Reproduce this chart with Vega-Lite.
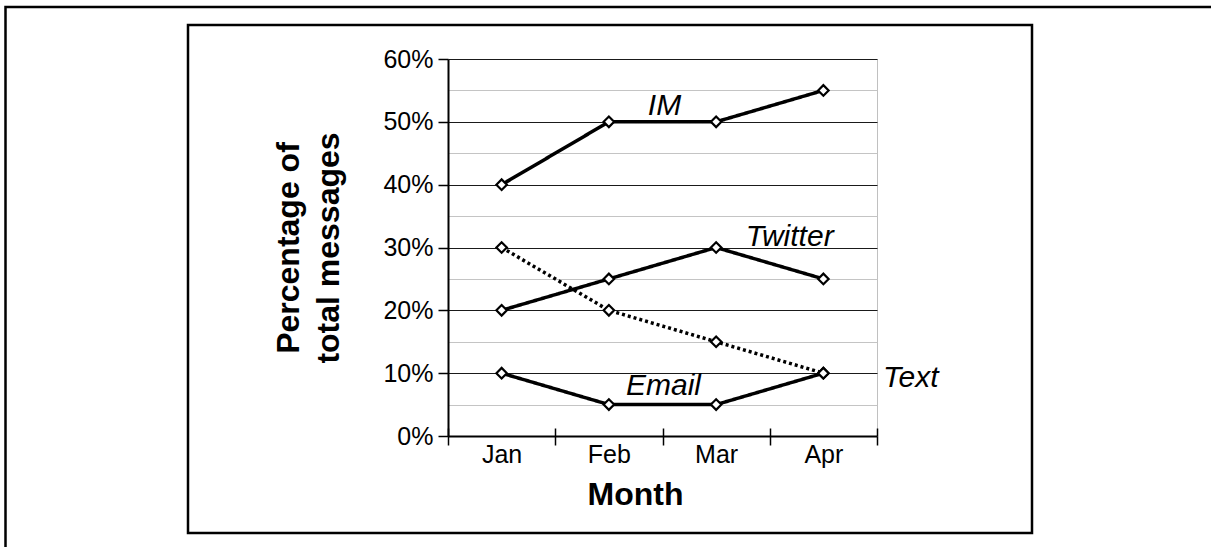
{
  "$schema": "https://vega.github.io/schema/vega-lite/v6.json",
  "width": 429,
  "height": 377,
  "autosize": {"type": "none"},
  "padding": {"left": 448, "top": 59, "right": 334, "bottom": 111},
  "background": "white",
  "config": {
    "font": "Liberation Sans",
    "view": {"stroke": "#c0c0c0", "strokeWidth": 1}
  },
  "datasets": {
    "msgs": [
      {"series": "IM", "month": "Jan", "value": 0.40},
      {"series": "IM", "month": "Feb", "value": 0.50},
      {"series": "IM", "month": "Mar", "value": 0.50},
      {"series": "IM", "month": "Apr", "value": 0.55},
      {"series": "Twitter", "month": "Jan", "value": 0.20},
      {"series": "Twitter", "month": "Feb", "value": 0.25},
      {"series": "Twitter", "month": "Mar", "value": 0.30},
      {"series": "Twitter", "month": "Apr", "value": 0.25},
      {"series": "Text", "month": "Jan", "value": 0.30},
      {"series": "Text", "month": "Feb", "value": 0.20},
      {"series": "Text", "month": "Mar", "value": 0.15},
      {"series": "Text", "month": "Apr", "value": 0.10},
      {"series": "Email", "month": "Jan", "value": 0.10},
      {"series": "Email", "month": "Feb", "value": 0.05},
      {"series": "Email", "month": "Mar", "value": 0.05},
      {"series": "Email", "month": "Apr", "value": 0.10}
    ],
    "labels": [
      {"series": "IM", "month": "Feb", "value": 0.50},
      {"series": "Twitter", "month": "Mar", "value": 0.30},
      {"series": "Text", "month": "Apr", "value": 0.10},
      {"series": "Email", "month": "Feb", "value": 0.05}
    ]
  },
  "layer": [
    {
      "data": {"values": [{}]},
      "mark": {"type": "rect", "filled": false, "stroke": "black", "strokeWidth": 2.5},
      "encoding": {
        "x": {"value": -442.5},
        "x2": {"value": 800},
        "y": {"value": -52},
        "y2": {"value": 520}
      }
    },
    {
      "data": {"values": [{}]},
      "mark": {"type": "rect", "filled": false, "stroke": "black", "strokeWidth": 2.5},
      "encoding": {
        "x": {"value": -260},
        "x2": {"value": 584},
        "y": {"value": -34},
        "y2": {"value": 474}
      }
    },
    {
      "data": {"name": "msgs"},
      "mark": {"type": "line", "color": "black", "strokeWidth": 3.5},
      "encoding": {
        "x": {
          "field": "month",
          "type": "nominal",
          "sort": ["Jan", "Feb", "Mar", "Apr"],
          "scale": {"type": "band", "domain": ["Jan", "Feb", "Mar", "Apr"], "paddingInner": 0, "paddingOuter": 0},
          "axis": {
            "orient": "bottom",
            "title": "Month",
            "tickBand": "extent",
            "labelAngle": 0,
            "tickSize": 9,
            "tickColor": "black",
            "tickWidth": 1.5,
            "domainColor": "black",
            "domainWidth": 2,
            "labelFontSize": 25,
            "labelColor": "black",
            "labelPadding": -3,
            "titleFontSize": 32,
            "titleFontWeight": "bold",
            "titleColor": "black",
            "titlePadding": 12,
            "titleX": 187,
            "grid": false
          }
        },
        "y": {
          "field": "value",
          "type": "quantitative",
          "scale": {"domain": [0, 0.6], "nice": false},
          "axis": {
            "orient": "left",
            "values": [0, 0.05, 0.1, 0.15, 0.2, 0.25, 0.3, 0.35, 0.4, 0.45, 0.5, 0.55, 0.6],
            "format": ".0%",
            "labelExpr": "round(datum.value*100) % 10 == 0 ? datum.label : ''",
            "labelOverlap": false,
            "grid": true,
            "gridColor": "#c4c4c4",
            "gridWidth": 1.2,
            "tickOpacity": {"condition": {"test": "round(datum.value*100) % 10 == 0", "value": 1}, "value": 0},
            "tickSize": 10,
            "tickColor": "black",
            "tickWidth": 1.5,
            "labelPadding": 5,
            "labelFontSize": 25,
            "labelColor": "black",
            "domainColor": "black",
            "domainWidth": 2,
            "title": ["Percentage of", "total messages"],
            "titleFontSize": 32,
            "titleFontWeight": "bold",
            "titleColor": "black",
            "titleLineHeight": 40,
            "titlePadding": 37
          }
        },
        "detail": {"field": "series"},
        "strokeDash": {
          "field": "series",
          "type": "nominal",
          "scale": {"domain": ["IM", "Twitter", "Text", "Email"], "range": [[1, 0], [1, 0], [3, 3], [1, 0]]},
          "legend": null
        }
      }
    },
    {
      "data": {"name": "msgs"},
      "mark": {"type": "point", "shape": "diamond", "filled": true, "fill": "white", "stroke": "black", "strokeWidth": 2.2, "size": 110, "opacity": 1},
      "encoding": {
        "x": {
          "field": "month",
          "type": "nominal",
          "sort": ["Jan", "Feb", "Mar", "Apr"],
          "scale": {"type": "band", "domain": ["Jan", "Feb", "Mar", "Apr"], "paddingInner": 0, "paddingOuter": 0},
          "axis": {
            "orient": "top",
            "offset": -377,
            "tickBand": "extent",
            "tickSize": 8,
            "tickColor": "black",
            "tickWidth": 1.5,
            "labels": false,
            "domain": false,
            "title": null,
            "grid": false
          }
        },
        "y": {
          "field": "value",
          "type": "quantitative",
          "scale": {"domain": [0, 0.6], "nice": false},
          "axis": {
            "orient": "left",
            "values": [0.1, 0.2, 0.3, 0.4, 0.5, 0.6],
            "grid": true,
            "gridColor": "#1a1a1a",
            "gridWidth": 1,
            "ticks": false,
            "labels": false,
            "domain": false,
            "title": null
          }
        }
      }
    },
    {
      "data": {"name": "labels"},
      "transform": [{"filter": "datum.series == 'IM'"}],
      "mark": {"type": "text", "fontSize": 30, "fontStyle": "italic", "color": "black", "align": "center", "baseline": "alphabetic", "dx": 2, "dy": -7},
      "encoding": {
        "x": {"field": "month", "type": "nominal", "bandPosition": 1, "scale": {"type": "band", "domain": ["Jan", "Feb", "Mar", "Apr"], "paddingInner": 0, "paddingOuter": 0}, "axis": null},
        "y": {"field": "value", "type": "quantitative", "scale": {"domain": [0, 0.6], "nice": false}, "axis": null},
        "text": {"field": "series"}
      }
    },
    {
      "data": {"name": "labels"},
      "transform": [{"filter": "datum.series == 'Twitter'"}],
      "mark": {"type": "text", "fontSize": 30, "fontStyle": "italic", "color": "black", "align": "center", "baseline": "alphabetic", "dx": 20, "dy": -1.5},
      "encoding": {
        "x": {"field": "month", "type": "nominal", "bandPosition": 1, "scale": {"type": "band", "domain": ["Jan", "Feb", "Mar", "Apr"], "paddingInner": 0, "paddingOuter": 0}, "axis": null},
        "y": {"field": "value", "type": "quantitative", "scale": {"domain": [0, 0.6], "nice": false}, "axis": null},
        "text": {"field": "series"}
      }
    },
    {
      "data": {"name": "labels"},
      "transform": [{"filter": "datum.series == 'Text'"}],
      "mark": {"type": "text", "fontSize": 30, "fontStyle": "italic", "color": "black", "align": "left", "baseline": "alphabetic", "dx": 6, "dy": 14},
      "encoding": {
        "x": {"field": "month", "type": "nominal", "bandPosition": 1, "scale": {"type": "band", "domain": ["Jan", "Feb", "Mar", "Apr"], "paddingInner": 0, "paddingOuter": 0}, "axis": null},
        "y": {"field": "value", "type": "quantitative", "scale": {"domain": [0, 0.6], "nice": false}, "axis": null},
        "text": {"field": "series"}
      }
    },
    {
      "data": {"name": "labels"},
      "transform": [{"filter": "datum.series == 'Email'"}],
      "mark": {"type": "text", "fontSize": 30, "fontStyle": "italic", "color": "black", "align": "center", "baseline": "alphabetic", "dx": 1, "dy": -9.6},
      "encoding": {
        "x": {"field": "month", "type": "nominal", "bandPosition": 1, "scale": {"type": "band", "domain": ["Jan", "Feb", "Mar", "Apr"], "paddingInner": 0, "paddingOuter": 0}, "axis": null},
        "y": {"field": "value", "type": "quantitative", "scale": {"domain": [0, 0.6], "nice": false}, "axis": null},
        "text": {"field": "series"}
      }
    }
  ],
  "resolve": {"axis": {"x": "independent", "y": "independent"}}
}
